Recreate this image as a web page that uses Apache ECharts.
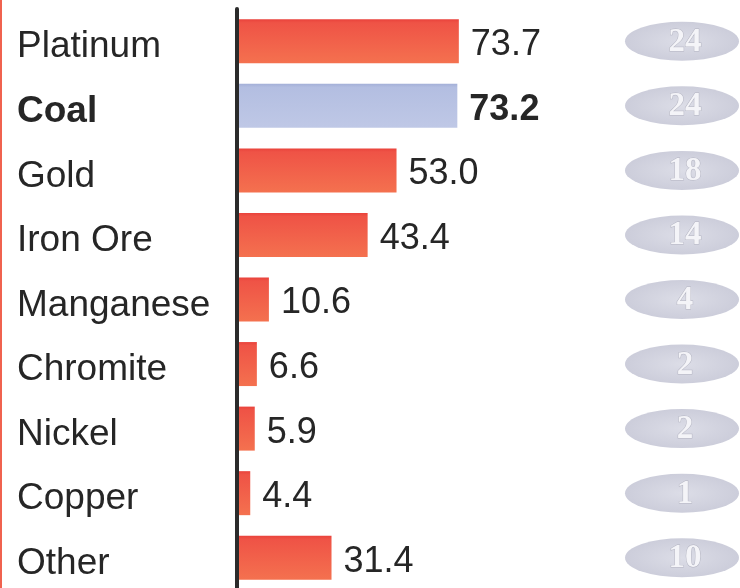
<!DOCTYPE html>
<html>
<head>
<meta charset="utf-8">
<script src="https://cdn.jsdelivr.net/npm/echarts@6/dist/echarts.min.js"></script>
<style>
  html, body { margin: 0; padding: 0; background: #ffffff; }
  #chart { width: 740px; height: 588px; }
</style>
</head>
<body>
<div id="chart"></div>
<script>
// Commodities, top to bottom
const categories = ['Platinum', 'Coal', 'Gold', 'Iron Ore', 'Manganese', 'Chromite', 'Nickel', 'Copper', 'Other'];
// Main value per commodity
const values = [73.7, 73.2, 53.0, 43.4, 10.6, 6.6, 5.9, 4.4, 31.4];
// Share figures shown in the right-hand column
const shares = [24, 24, 18, 14, 4, 2, 2, 1, 10];
// Highlighted commodity
const highlight = 'Coal';

const redFill = new echarts.graphic.LinearGradient(0, 0, 0, 1, [
  { offset: 0, color: '#e9423b' },
  { offset: 0.08, color: '#ef5346' },
  { offset: 1, color: '#f4714f' }
]);
const blueFill = new echarts.graphic.LinearGradient(0, 0, 0, 1, [
  { offset: 0, color: '#a4b0d8' },
  { offset: 0.08, color: '#b3bee1' },
  { offset: 1, color: '#bfc8e6' }
]);
const pillFill = new echarts.graphic.RadialGradient(0.5, 0.5, 0.6, [
  { offset: 0, color: '#dcdde7' },
  { offset: 1, color: '#c9cad8' }
]);

const textColor = '#262626';
const sans = 'Liberation Sans, Arial, sans-serif';

// Category names sit a little below the bar centre line
const catLabelStyle = {
  align: 'left',
  verticalAlign: 'top',
  lineHeight: 12,
  color: textColor,
  fontFamily: sans,
  fontSize: 37
};

const chart = echarts.init(document.getElementById('chart'), null, { renderer: 'canvas' });

chart.setOption({
  animation: false,
  backgroundColor: '#ffffff',
  grid: [
    { left: 237, top: 9, width: 301, height: 581, containLabel: false, outerBoundsMode: 'none' },
    { left: 625, top: 9, width: 114, height: 581, containLabel: false, outerBoundsMode: 'none' }
  ],
  xAxis: [
    { gridIndex: 0, type: 'value', min: 0, max: 100, show: false },
    { gridIndex: 1, type: 'category', data: ['share'], show: false }
  ],
  yAxis: [
    {
      gridIndex: 0,
      type: 'category',
      inverse: true,
      z: 10,
      data: categories.map(c => c === highlight
        ? { value: c, textStyle: Object.assign({}, catLabelStyle, { fontWeight: 'bold' }) }
        : c),
      axisLine: { show: true, lineStyle: { color: '#2b2b2b', width: 4, cap: 'round' } },
      axisTick: { show: false },
      splitLine: { show: false },
      axisLabel: Object.assign({ margin: 220 }, catLabelStyle)
    },
    { gridIndex: 1, type: 'category', inverse: true, data: categories, show: false }
  ],
  series: [
    {
      type: 'bar',
      xAxisIndex: 0,
      yAxisIndex: 0,
      barWidth: 44,
      data: values.map((v, i) => {
        const isHi = categories[i] === highlight;
        return {
          value: v,
          itemStyle: { color: isHi ? blueFill : redFill },
          label: isHi ? { fontWeight: 'bold' } : undefined
        };
      }),
      label: {
        show: true,
        position: 'right',
        distance: 12,
        offset: [0, 4],
        color: textColor,
        fontFamily: sans,
        fontSize: 36,
        formatter: p => p.value.toFixed(1)
      }
    },
    {
      type: 'scatter',
      xAxisIndex: 1,
      yAxisIndex: 1,
      symbol: 'circle',
      symbolSize: [114, 39],
      itemStyle: { color: pillFill, opacity: 1 },
      data: shares.map((s, i) => [0, i, s]),
      label: {
        show: true,
        position: 'inside',
        offset: [3, 1],
        formatter: p => String(p.value[2]),
        color: '#f4f4f8',
        fontFamily: 'Liberation Serif, Times New Roman, serif',
        fontWeight: 'bold',
        fontSize: 33,
        textBorderColor: '#b4b5c2',
        textBorderWidth: 1
      }
    }
  ],
  graphic: [
    {
      type: 'rect',
      left: 0,
      top: 0,
      shape: { width: 2, height: 588 },
      style: { fill: '#f0624f' },
      silent: true
    }
  ]
});
</script>
</body>
</html>
